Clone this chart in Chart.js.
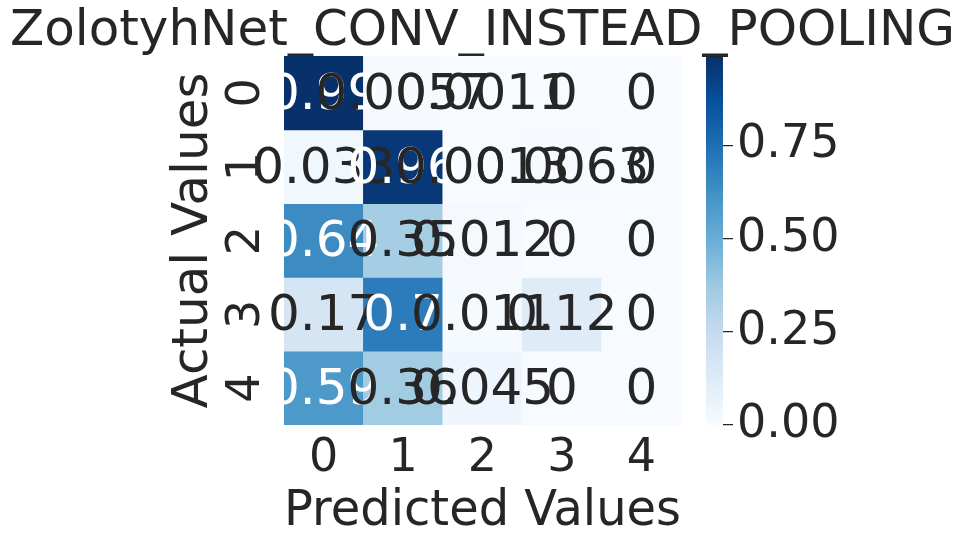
<!DOCTYPE html>
<html lang="en">
<head>
  <meta charset="UTF-8" />
  <title>ZolotyhNet_CONV_INSTEAD_POOLING</title>
  <script src="https://cdn.jsdelivr.net/npm/chart.js"></script>
  <style>
    body {
      margin: 0;
      background: #ffffff;
    }
    #wrap {
      position: relative;
      width: 965px;
      height: 547px;
    }
    #wrap canvas {
      position: absolute;
      top: 0;
    }
  </style>
</head>
<body>
  <div id="wrap">
    <canvas id="cbar" width="275" height="547" style="left:690px"></canvas>
    <canvas id="heat" width="965" height="547" style="left:0"></canvas>
  </div>

  <script>
    // confusion matrix, rows = actual, columns = predicted
    const predictedLabels = ['0', '1', '2', '3', '4'];
    const actualLabels = ['0', '1', '2', '3', '4'];
    const row0 = [0.99, 0.0057, 0.0011, 0, 0];
    const row1 = [0.033, 0.96, 0.0013, 0.0063, 0];
    const row2 = [0.64, 0.35, 0.012, 0, 0];
    const row3 = [0.17, 0.7, 0.011, 0.12, 0];
    const row4 = [0.59, 0.36, 0.045, 0, 0];
    const colorbarTicks = [0, 0.25, 0.5, 0.75];

    const matrix = [row0, row1, row2, row3, row4];
    const vmax = Math.max(...matrix.flat());
    const ink = '#262626';
    const family = '"DejaVu Sans", sans-serif';

    // matplotlib "Blues"
    const blues = ['#f7fbff', '#deebf7', '#c6dbef', '#9ecae1', '#6baed6',
                   '#4292c6', '#2171b5', '#08519c', '#08306b'];

    function hexRgb(h) {
      return [1, 3, 5].map(k => parseInt(h.slice(k, k + 2), 16));
    }

    function bluesRgb(t) {
      t = Math.min(1, Math.max(0, t)) * (blues.length - 1);
      const k = Math.min(blues.length - 2, Math.floor(t));
      const f = t - k;
      const a = hexRgb(blues[k]), b = hexRgb(blues[k + 1]);
      return a.map((v, n) => Math.round(v + (b[n] - v) * f));
    }

    function cellColor(v) {
      const c = bluesRgb(v / vmax);
      return `rgb(${c[0]},${c[1]},${c[2]})`;
    }

    // same rule as seaborn: light text on dark cells
    function textColor(v) {
      const lin = bluesRgb(v / vmax).map(c => {
        c /= 255;
        return c <= 0.03928 ? c / 12.92 : Math.pow((c + 0.055) / 1.055, 2.4);
      });
      const lum = 0.2126 * lin[0] + 0.7152 * lin[1] + 0.0722 * lin[2];
      return lum > 0.408 ? ink : '#ffffff';
    }

    function fmt(v) {
      return v === 0 ? '0' : String(Number(v.toPrecision(2)));
    }

    const cellText = {
      id: 'cellText',
      afterDatasetsDraw(chart) {
        const { ctx, scales: { x, y } } = chart;
        ctx.save();
        ctx.font = '50px ' + family;
        ctx.textAlign = 'center';
        ctx.textBaseline = 'middle';
        matrix.forEach((row, i) => row.forEach((v, j) => {
          ctx.fillStyle = textColor(v);
          ctx.fillText(fmt(v), x.getPixelForValue(j), y.getPixelForValue(i + 0.5) + 3);
        }));
        ctx.restore();
      }
    };

    const datasets = matrix.map((row, i) => ({
      label: actualLabels[i],
      data: row.map(() => [i, i + 1]),
      backgroundColor: row.map(cellColor),
      borderWidth: 0,
      barPercentage: 1,
      categoryPercentage: 1
    }));

    new Chart(document.getElementById('heat'), {
      type: 'bar',
      data: { labels: predictedLabels, datasets: datasets },
      options: {
        responsive: false,
        animation: false,
        devicePixelRatio: 1,
        layout: { padding: 0 },
        plugins: {
          legend: { display: false },
          tooltip: { enabled: false },
          title: {
            display: true,
            text: 'ZolotyhNet_CONV_INSTEAD_POOLING',
            color: ink,
            font: { family: family, size: 50, weight: 'normal', lineHeight: 0.96 },
            padding: { top: 8, bottom: 0 }
          }
        },
        scales: {
          x: {
            stacked: true,
            grid: { display: false, drawTicks: false },
            border: { display: false },
            ticks: { color: ink, font: { family: family, size: 46 }, padding: 6 },
            title: {
              display: true,
              text: 'Predicted Values',
              color: ink,
              font: { family: family, size: 50 },
              padding: { top: 0, bottom: 5 }
            },
            afterFit(scale) { scale.height = 122; }
          },
          y: {
            stacked: false,
            min: 0,
            max: 5,
            reverse: true,
            grid: { display: false, drawTicks: false },
            border: { display: false },
            afterBuildTicks(scale) {
              scale.ticks = actualLabels.map((_, i) => ({ value: i + 0.5 }));
            },
            ticks: {
              color: ink,
              font: { family: family, size: 46 },
              minRotation: 90,
              maxRotation: 90,
              crossAlign: 'center',
              padding: 22,
              callback: (v, i) => actualLabels[i]
            },
            title: {
              display: true,
              text: 'Actual Values',
              color: ink,
              font: { family: family, size: 50 },
              padding: { top: 164, bottom: 0 }
            },
            afterFit(scale) { scale.width = 284; }
          },
          // empty axis that keeps room for the colour bar
          pad: {
            type: 'linear',
            position: 'right',
            display: true,
            grid: { display: false, drawTicks: false },
            border: { display: false },
            ticks: { display: false },
            afterFit(scale) { scale.width = 284; }
          }
        }
      },
      plugins: [cellText]
    });

    new Chart(document.getElementById('cbar'), {
      type: 'bar',
      data: {
        labels: [''],
        datasets: [{
          data: [[0, vmax]],
          borderWidth: 0,
          barPercentage: 1,
          categoryPercentage: 1,
          backgroundColor(context) {
            const area = context.chart.chartArea;
            if (!area) return blues[4];
            const g = context.chart.ctx.createLinearGradient(0, area.bottom, 0, area.top);
            blues.forEach((c, k) => g.addColorStop(k / (blues.length - 1), c));
            return g;
          }
        }]
      },
      options: {
        responsive: false,
        animation: false,
        devicePixelRatio: 1,
        layout: { padding: { left: 16, top: 56, bottom: 122, right: 0 } },
        plugins: { legend: { display: false }, tooltip: { enabled: false } },
        scales: {
          x: { display: false },
          y: {
            position: 'right',
            min: 0,
            max: vmax,
            border: { display: false },
            grid: { drawOnChartArea: false, drawTicks: true, tickLength: 10, color: ink, lineWidth: 1.25 },
            afterBuildTicks(scale) {
              scale.ticks = colorbarTicks.map(v => ({ value: v }));
            },
            ticks: {
              color: ink,
              font: { family: family, size: 46 },
              padding: 4,
              callback: v => v.toFixed(2)
            },
            afterFit(scale) { scale.width = 242; }
          }
        }
      }
    });
  </script>
</body>
</html>
